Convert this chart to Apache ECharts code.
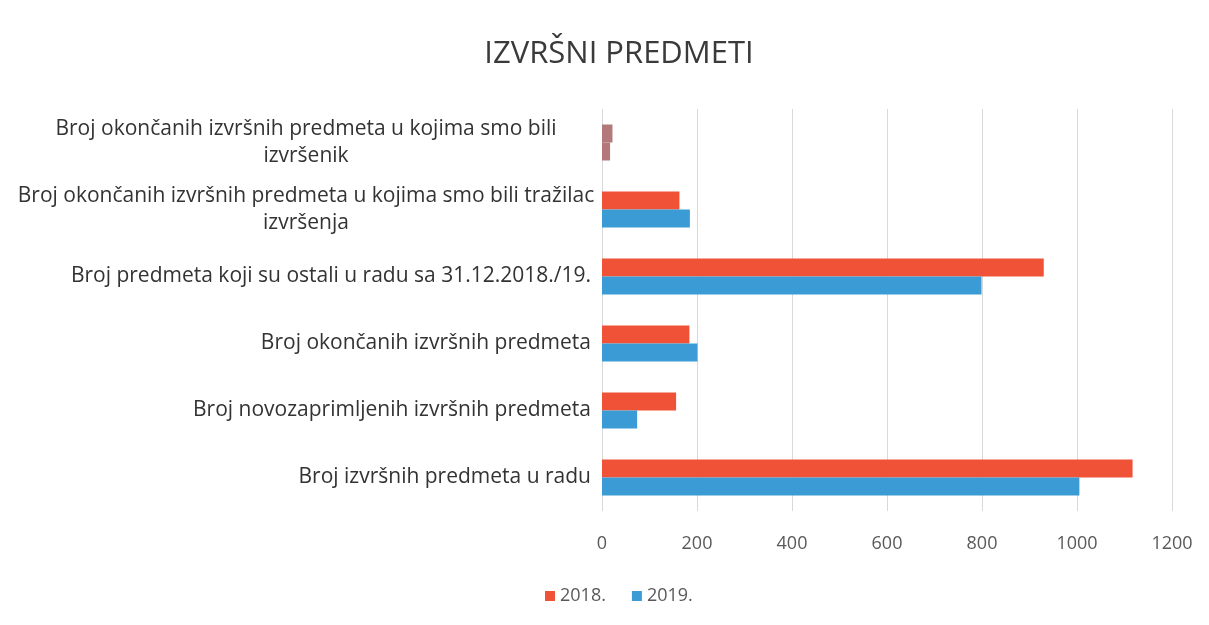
<!DOCTYPE html>
<html>
<head>
<meta charset="utf-8">
<title>IZVRŠNI PREDMETI</title>
<script src="https://cdn.jsdelivr.net/npm/echarts@6/dist/echarts.min.js"></script>
<style>
  html, body { margin: 0; padding: 0; background: #fff; }
  #chart { width: 1209px; height: 625px; }
</style>
</head>
<body>
<div id="chart"></div>
<script>
// kategorije, odozdo prema gore
var categories = [
    'Broj izvršnih predmeta u radu',
    'Broj novozaprimljenih izvršnih predmeta',
    'Broj okončanih izvršnih predmeta',
    'Broj predmeta koji su ostali u radu sa 31.12.2018./19.',
    'Broj okončanih izvršnih predmeta u kojima smo bili tražilac izvršenja',
    'Broj okončanih izvršnih predmeta u kojima smo bili izvršenik'
];
var years = ['2018.', '2019.'];
var values2018 = [1117, 156, 184, 930, 163, 22];
var values2019 = [1005, 74, 201, 799, 185, 17];
var xTicks = [0, 200, 400, 600, 800, 1000, 1200];

var font = '"Open Sans", Lato, sans-serif';
var colors = ['#ef5236', '#3b9bd4'];
var oddColor = '#b3787a'; // zadnja kategorija je u originalu drugačije boje

// prelamanje dugih naziva (max 59 znakova po retku)
function wrap(text, max) {
    var words = text.split(' '), lines = [], cur = '';
    words.forEach(function(w) {
        var next = cur ? cur + ' ' + w : w;
        if (next.length > max && cur) {
            lines.push(cur);
            cur = w;
        } else {
            cur = next;
        }
    });
    lines.push(cur);
    return lines;
}

function toItems(vals) {
    return vals.map(function(v, i) {
        if (i === vals.length - 1) {
            return { value: v, itemStyle: { color: oddColor } };
        }
        return v;
    });
}

var myChart = echarts.init(document.getElementById('chart'));

myChart.setOption({
    animation: false,
    title: {
        text: 'IZVRŠNI PREDMETI',
        left: 614,
        textAlign: 'center',
        top: 34,
        textStyle: {
            color: '#3a3a3a',
            fontFamily: font,
            fontWeight: 'normal',
            fontSize: 31
        }
    },
    legend: {
        data: years,
        bottom: 15,
        left: 540,
        icon: 'rect',
        itemWidth: 10,
        itemHeight: 10,
        itemGap: 26,
        textStyle: {
            color: '#595959',
            fontFamily: font,
            fontSize: 18
        }
    },
    grid: {
        left: 602,
        right: 37,
        top: 109,
        bottom: 114,
        containLabel: false
    },
    xAxis: {
        type: 'value',
        min: 0,
        max: 1200,
        interval: 200,
        axisLine: { show: false },
        axisTick: { show: false },
        splitLine: { lineStyle: { color: '#d9d9d9' } },
        axisLabel: {
            color: '#595959',
            fontFamily: font,
            fontSize: 18,
            margin: 24,
            customValues: xTicks,
            formatter: function(v) { return String(v); }
        }
    },
    yAxis: {
        type: 'category',
        data: categories,
        axisLine: { show: false },
        axisTick: { show: false },
        axisLabel: {
            margin: 11,
            color: '#333333',
            fontFamily: font,
            fontSize: 21,
            formatter: function(v) {
                var lines = wrap(v, 59);
                if (lines.length === 1) return '{r|' + v + '}';
                return lines.map(function(l) { return '{c|' + l + '}'; }).join('\n');
            },
            rich: {
                r: { fontFamily: font, fontSize: 21, color: '#333333', lineHeight: 27 },
                c: { fontFamily: font, fontSize: 21, color: '#333333', lineHeight: 27, width: 570, align: 'center' }
            }
        }
    },
    series: [{
        name: years[0],
        type: 'bar',
        data: toItems(values2018),
        barWidth: 18,
        barGap: '0%',
        itemStyle: { color: colors[0] }
    }, {
        name: years[1],
        type: 'bar',
        data: toItems(values2019),
        barWidth: 18,
        barGap: '0%',
        itemStyle: { color: colors[1] }
    }]
});

window.addEventListener('resize', function() {
    myChart.resize();
});
</script>
</body>
</html>
